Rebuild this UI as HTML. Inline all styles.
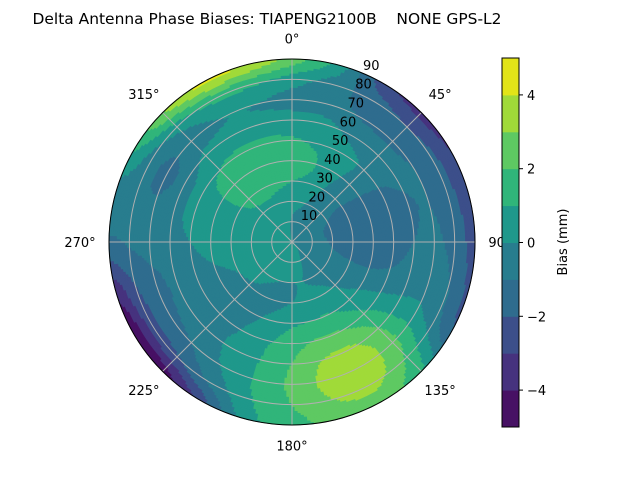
<!DOCTYPE html>
<html><head><meta charset="utf-8"><style>
html,body{margin:0;padding:0;background:#fff;}
svg{display:block;font-family:"DejaVu Sans","Liberation Sans",sans-serif;}
</style></head><body>
<svg id="chart" width="640" height="480" viewBox="0 0 640 480">
<text x="267" y="24" font-size="15" text-anchor="middle" textLength="469" lengthAdjust="spacingAndGlyphs" style="white-space:pre" xml:space="preserve">Delta Antenna Phase Biases: TIAPENG2100B    NONE GPS-L2</text>
<g id="field"></g>
<g id="grid"></g>
<g id="labels"></g>
<g id="cbar"></g>
</svg>
<script>
const azimuths = [0,15,30,45,60,75,90,105,120,135,150,165,180,195,210,225,240,255,270,285,300,315,330,345];
const radii = [0,10,20,30,40,50,60,70,80,90];
const biasGrid = [
[-0.2,-0.1,0.3,1.0,1.4,1.1,0.4,-0.3,0.5,2.5],
[-0.2,-0.3,0.1,0.7,1.1,0.8,0.3,-0.6,-0.5,0.5],
[-0.3,-0.5,-0.4,0,0.3,0.3,-0.3,-1.1,-1.5,-2.5],
[-0.3,-0.6,-0.8,-0.7,-0.4,-0.2,-0.6,-1.2,-2,-3.3],
[-0.3,-0.7,-1,-1.2,-1.2,-1.1,-0.9,-1,-1.7,-3],
[-0.2,-0.7,-1.2,-1.5,-1.6,-1.4,-1.1,-1,-1.6,-2.6],
[-0.1,-0.6,-1.1,-1.4,-1.5,-1.4,-1,-0.8,-1.4,-2.4],
[0,-0.5,-0.9,-1.1,-1.2,-1,-0.6,-0.4,-1,-2.2],
[0,-0.4,-0.6,-0.5,-0.3,0,0.3,0.3,-0.5,-1.8],
[0.1,-0.3,-0.4,-0.1,0.4,1.2,2,2.3,1.8,1.2],
[0.2,-0.1,-0.2,0.3,1,2,3.1,3.6,3.3,2.4],
[0.3,0.2,0,0.3,1,2.1,3,3.3,3,2.3],
[0.4,0.4,0,0,0.8,1.5,2,2.2,2,1.6],
[0.4,0.4,0,-0.2,0.2,0.8,1,1.1,0.9,0.5],
[0.4,0.4,0.1,-0.2,-0.2,0,0.2,0,-0.8,-2.5],
[0.4,0.4,0.3,-0.1,-0.4,-0.4,-0.5,-1,-2.2,-4.5],
[0.4,0.5,0.4,0,-0.4,-0.6,-0.8,-1.3,-2.5,-4.8],
[0.4,0.5,0.5,0.3,0,-0.4,-0.8,-1.2,-2,-3.5],
[0.4,0.6,0.7,0.6,0.4,0,-0.4,-0.7,-0.9,-1.2],
[0.4,0.6,0.8,0.8,0.6,0.3,-0.3,-0.9,-0.8,-0.5],
[0.3,0.6,0.8,0.9,0.9,0.6,-0.6,-1.2,-0.5,1],
[0.2,0.5,0.8,1.2,1.4,1.0,0.2,-0.6,0.5,3],
[0.1,0.4,0.8,1.3,1.5,1.2,0.4,0,1.3,4.2],
[0,0.2,0.6,1.2,1.5,1.2,0.4,0,1.2,3.8]
];
const levels = [-5,-4,-3,-2,-1,0,1,2,3,4,5];
const levelColors = ['#471164','#46327e','#3c4f8a','#2f6c8e','#287d8e','#1f988b','#30b57a','#5ec962','#a0da39','#e2e418'];
const cbarTicks = [-4,-2,0,2,4];
const angleTicks = [0,45,90,135,180,225,270,315];
const ringTicks = [10,20,30,40,50,60,70,80,90];

const NS='http://www.w3.org/2000/svg';
const CX=292, CY=242, R=183, RMAX=90;
function rScale(v){return v/RMAX*R;}
function pt(az,r){const a=az*Math.PI/180;return [CX+rScale(r)*Math.sin(a), CY-rScale(r)*Math.cos(a)];}
function mk(tag,attrs,parent){const e=document.createElementNS(NS,tag);for(const k in attrs)e.setAttribute(k,attrs[k]);parent.appendChild(e);return e;}
function cr(p0,p1,p2,p3,t){return 0.5*((2*p1)+(-p0+p2)*t+(2*p0-5*p1+4*p2-p3)*t*t+(-p0+3*p1-3*p2+p3)*t*t*t);}
function rowAt(i,r){
  const row=biasGrid[i], m=row.length;
  let ri=r/10; let j=Math.min(Math.floor(ri),m-2); const f=ri-j;
  const g=k=>row[Math.max(0,Math.min(m-1,k))];
  return cr(g(j-1),g(j),g(j+1),g(j+2),f);
}
function sample(az,r){
  const n=azimuths.length, step=360/n;
  const ai=az/step; const i=Math.floor(ai), f=ai-i;
  const g=k=>rowAt(((k%n)+n)%n,r);
  return cr(g(i-1),g(i),g(i+1),g(i+2),f);
}
function levelIndex(v){for(let k=0;k<levels.length-1;k++){if(v<levels[k+1])return k;}return levelColors.length-1;}

const field=document.getElementById('field');
const dA=1, dR=1;
const paths=levelColors.map(()=>[]);
for(let a=0;a<360;a+=dA){
  for(let r=0;r<RMAX;r+=dR){
    const k=levelIndex(sample(a+dA/2,r+dR/2));
    const p1=pt(a,r),p2=pt(a+dA,r),p3=pt(a+dA,r+dR),p4=pt(a,r+dR);
    paths[k].push(`M${p1[0].toFixed(1)},${p1[1].toFixed(1)}L${p2[0].toFixed(1)},${p2[1].toFixed(1)}L${p3[0].toFixed(1)},${p3[1].toFixed(1)}L${p4[0].toFixed(1)},${p4[1].toFixed(1)}Z`);
  }
}
paths.forEach((arr,k)=>{
  if(!arr.length)return;
  const el=mk('path',{d:arr.join(''),fill:levelColors[k],stroke:levelColors[k],'stroke-width':0.7,'stroke-linejoin':'round'},field);
  
  
});

const grid=document.getElementById('grid');
ringTicks.forEach(t=>{
  if(t===90)return;
  const el=mk('circle',{cx:CX,cy:CY,r:rScale(t),fill:'none',stroke:'#b0b0b0','stroke-width':1},grid);
  
  
});
angleTicks.forEach(t=>{
  const p=pt(t,RMAX);
  const el=mk('line',{x1:CX,y1:CY,x2:p[0],y2:p[1],stroke:'#b0b0b0','stroke-width':1},grid);
  
  
});
const outer=mk('circle',{cx:CX,cy:CY,r:R,fill:'none',stroke:'#000','stroke-width':1},grid);



const labels=document.getElementById('labels');
ringTicks.forEach(t=>{
  const p=pt(22.5,t);
  const el=mk('text',{x:p[0]+1,y:p[1]-3,'font-size':13},labels);
  el.textContent=String(t);
  
  
});
angleTicks.forEach(t=>{
  const p=pt(t,RMAX+(t%90===0?10:13));
  let anchor='middle', dx=0;
  if(t===90){anchor='start';dx=-7;}
  if(t===270){anchor='end';dx=7;}
  const el=mk('text',{x:p[0]+dx,y:p[1]+5,'font-size':13,'text-anchor':anchor},labels);
  el.textContent=t+(t===90?'':'°');
  
  
});

const cbar=document.getElementById('cbar');
const CBX=502, CBW=17, CBT=58, CBB=427;
function cy(v){return CBB-(v-levels[0])/(levels[levels.length-1]-levels[0])*(CBB-CBT);}
for(let k=0;k<levelColors.length;k++){
  const el=mk('rect',{x:CBX,y:cy(levels[k+1]),width:CBW,height:cy(levels[k])-cy(levels[k+1])+0.5,fill:levelColors[k]},cbar);
  
  
}
mk('rect',{x:CBX,y:CBT,width:CBW,height:CBB-CBT,fill:'none',stroke:'#000','stroke-width':1},cbar);
cbarTicks.forEach(t=>{
  mk('line',{x1:CBX+CBW,y1:cy(t),x2:CBX+CBW+4,y2:cy(t),stroke:'#000'},cbar);
  const el=mk('text',{x:CBX+CBW+8,y:cy(t)+5,'font-size':13},cbar);
  el.textContent=t<0?'\u2212'+Math.abs(t):String(t);
  
  
});
const lab=mk('text',{x:0,y:0,'font-size':13,'text-anchor':'middle',transform:'translate(567,242) rotate(-90)'},cbar);
lab.textContent='Bias (mm)';


</script>
</body></html>
